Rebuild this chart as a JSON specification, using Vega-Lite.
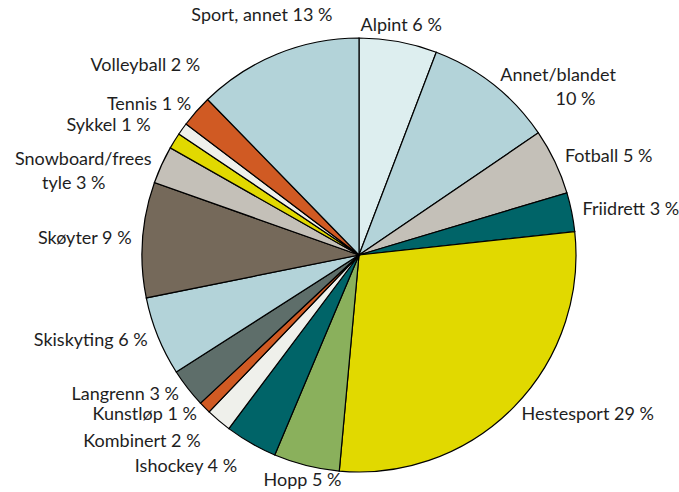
{
  "$schema": "https://vega.github.io/schema/vega-lite/v6.json",
  "width": 640,
  "height": 474,
  "padding": {"left": 39, "top": 18, "right": 0, "bottom": 0},
  "autosize": {"type": "none"},
  "background": "white",
  "view": {"stroke": null},
  "config": {"text": {"font": "Lato", "fontSize": 18, "baseline": "middle", "lineBreak": "\n", "lineHeight": 24, "color": "#1e1e1e"}},
  "data": {
    "values": [
      {"nr": 1, "sport": "Alpint", "value": 5.8, "label": "Alpint 6 %"},
      {"nr": 2, "sport": "Annet/blandet", "value": 9.7, "label": "Annet/blandet\n\u200b\u00a0\u00a0\u00a0\u00a0\u00a0\u00a0\u00a0\u00a0\u00a0\u00a0\u00a0\u00a010 %"},
      {"nr": 3, "sport": "Fotball", "value": 4.9, "label": "Fotball 5 %"},
      {"nr": 4, "sport": "Friidrett", "value": 2.9, "label": "Friidrett 3 %"},
      {"nr": 5, "sport": "Hestesport", "value": 28.2, "label": "Hestesport 29 %"},
      {"nr": 6, "sport": "Hopp", "value": 4.9, "label": "Hopp 5 %"},
      {"nr": 7, "sport": "Ishockey", "value": 3.9, "label": "Ishockey 4 %"},
      {"nr": 8, "sport": "Kombinert", "value": 1.9, "label": "Kombinert 2 %"},
      {"nr": 9, "sport": "Kunstløp", "value": 0.9, "label": "Kunstløp 1 %"},
      {"nr": 10, "sport": "Langrenn", "value": 2.9, "label": "Langrenn 3 %"},
      {"nr": 11, "sport": "Skiskyting", "value": 5.9, "label": "Skiskyting 6 %"},
      {"nr": 12, "sport": "Skøyter", "value": 8.6, "label": "Skøyter 9 %"},
      {"nr": 13, "sport": "Snowboard/freestyle", "value": 2.8, "label": "Snowboard/frees\ntyle 3 %\u00a0\u00a0\u00a0\u00a0\u00a0\u00a0\u00a0\u00a0\u00a0\u00a0\u200b"},
      {"nr": 14, "sport": "Sykkel", "value": 1.2, "label": "Sykkel 1 %"},
      {"nr": 15, "sport": "Tennis", "value": 0.9, "label": "Tennis 1 %"},
      {"nr": 16, "sport": "Volleyball", "value": 2.4, "label": "Volleyball 2 %"},
      {"nr": 17, "sport": "Sport, annet", "value": 12.3, "label": "Sport, annet 13 %"}
    ]
  },
  "encoding": {
    "theta": {"field": "value", "type": "quantitative", "stack": true},
    "order": {"field": "nr", "type": "quantitative"}
  },
  "layer": [
    {
      "mark": {"type": "arc", "outerRadius": 217, "stroke": "black", "strokeWidth": 1.2},
      "encoding": {
        "color": {
          "field": "sport",
          "type": "nominal",
          "legend": null,
          "scale": {
            "domain": ["Alpint", "Annet/blandet", "Fotball", "Friidrett", "Hestesport", "Hopp", "Ishockey", "Kombinert", "Kunstløp", "Langrenn", "Skiskyting", "Skøyter", "Snowboard/freestyle", "Sykkel", "Tennis", "Volleyball", "Sport, annet"],
            "range": ["#ddeeef", "#b3d3d9", "#c4c0b8", "#006468", "#e1d900", "#8ab05c", "#006468", "#eff0eb", "#d05a23", "#5e6e6a", "#b3d3d9", "#75695a", "#c4c0b8", "#e1d900", "#eff0eb", "#d05a23", "#b3d3d9"]
          }
        }
      }
    },
    {
      "mark": {"type": "text", "radius": 228, "align": "left"},
      "encoding": {
        "text": {"condition": {"test": "datum.nr >= 2 && datum.nr <= 5", "field": "label"}, "value": ""}
      }
    },
    {
      "mark": {"type": "text", "radius": 228, "align": "right"},
      "encoding": {
        "text": {"condition": {"test": "datum.nr >= 9 && datum.nr <= 13", "field": "label"}, "value": ""}
      }
    },
    {
      "mark": {"type": "text", "radius": 245, "align": "right"},
      "encoding": {
        "text": {"condition": {"test": "datum.nr == 7 || datum.nr == 8 || datum.nr == 14", "field": "label"}, "value": ""}
      }
    },
    {
      "mark": {"type": "text", "radius": 233, "align": "center"},
      "encoding": {
        "text": {"condition": {"test": "datum.nr == 1 || datum.nr == 6", "field": "label"}, "value": ""}
      }
    },
    {
      "mark": {"type": "text", "radius": 258, "align": "center"},
      "encoding": {
        "text": {"condition": {"test": "datum.nr == 15 || datum.nr == 17", "field": "label"}, "value": ""}
      }
    },
    {
      "mark": {"type": "text", "radius": 285, "align": "center"},
      "encoding": {
        "text": {"condition": {"test": "datum.nr == 16", "field": "label"}, "value": ""}
      }
    }
  ]
}
